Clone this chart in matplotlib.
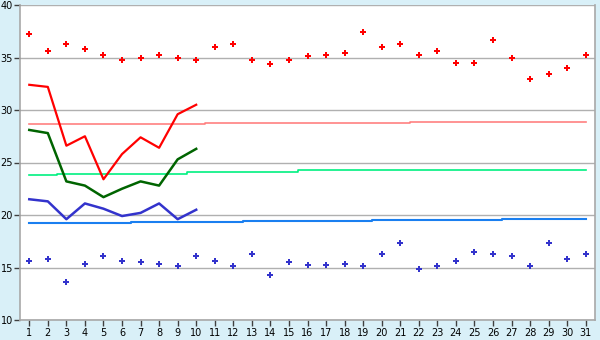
import matplotlib
matplotlib.use("Agg")
import matplotlib.pyplot as plt

days = list(range(1, 32))

max_pts = [37.2, 35.6, 36.3, 35.8, 35.2, 34.8, 35.0, 35.2, 35.0, 34.8,
           36.0, 36.3, 34.8, 34.4, 34.8, 35.1, 35.2, 35.4, 37.4, 36.0,
           36.3, 35.2, 35.6, 34.5, 34.5, 36.7, 35.0, 33.0, 33.4, 34.0, 35.2]
min_pts = [15.6, 15.8, 13.6, 15.3, 16.1, 15.6, 15.5, 15.3, 15.1, 16.1,
           15.6, 15.1, 16.3, 14.3, 15.5, 15.2, 15.2, 15.3, 15.1, 16.3,
           17.3, 14.9, 15.1, 15.6, 16.5, 16.3, 16.1, 15.1, 17.3, 15.8, 16.3]

line_days = list(range(1, 11))
red_line = [32.4, 32.2, 26.6, 27.5, 23.4, 25.8, 27.4, 26.4, 29.6, 30.5]
green_line = [28.1, 27.8, 23.2, 22.8, 21.7, 22.5, 23.2, 22.8, 25.3, 26.3]
blue_line = [21.5, 21.3, 19.6, 21.1, 20.6, 19.9, 20.2, 21.1, 19.6, 20.5]

ref_red = [28.63] * 10 + [28.73] * 11 + [28.82] * 10
ref_green = [23.79] * 2 + [23.86] * 4 + [23.95] * 3 + [24.05] + [24.14] * 5 + [24.24] * 16
ref_blue = [19.28] * 6 + [19.37] * 6 + [19.47] * 7 + [19.56] * 7 + [19.66] * 5

bg = '#d9f0f8'
fig = plt.figure(figsize=(6, 3.4), dpi=100, facecolor=bg)
ax = fig.add_axes([20/600, 1 - 320/340, 575/600, 315/340])
ax.set_facecolor('white')

ax.set_xlim(0.5, 31.5)
ax.set_ylim(10, 40)
ax.set_yticks(range(10, 41, 5))
ax.set_xticks(days)
ax.yaxis.grid(True, color='#b0b0b0', lw=1)
ax.set_axisbelow(True)

for s in ['left', 'bottom', 'right']:
    ax.spines[s].set_color('#a8a8a8')
    ax.spines[s].set_linewidth(1.2)
ax.spines['top'].set_visible(False)
ax.tick_params(axis='both', colors='#404040', labelsize=7, length=4, width=1,
               labelcolor='black', pad=1)
ax.tick_params(axis='x', pad=2)

ax.plot(days, ref_red, drawstyle='steps-mid', color='#ff8080', lw=1.2)
ax.plot(days, ref_green, drawstyle='steps-mid', color='#00f080', lw=1.2)
ax.plot(days, ref_blue, drawstyle='steps-mid', color='#1a7ff0', lw=1.5)

ax.plot(line_days, red_line, color='#ff0000', lw=1.6)
ax.plot(line_days, green_line, color='#006400', lw=1.8)
ax.plot(line_days, blue_line, color='#3333cc', lw=1.8)

ax.plot(days, max_pts, 'P', color='#ff0000', markersize=4.5, markeredgewidth=0, linestyle='none')
ax.plot(days, min_pts, 'P', color='#3333cc', markersize=4.5, markeredgewidth=0, linestyle='none')

fig.savefig('out.png', dpi=100, facecolor=bg)
